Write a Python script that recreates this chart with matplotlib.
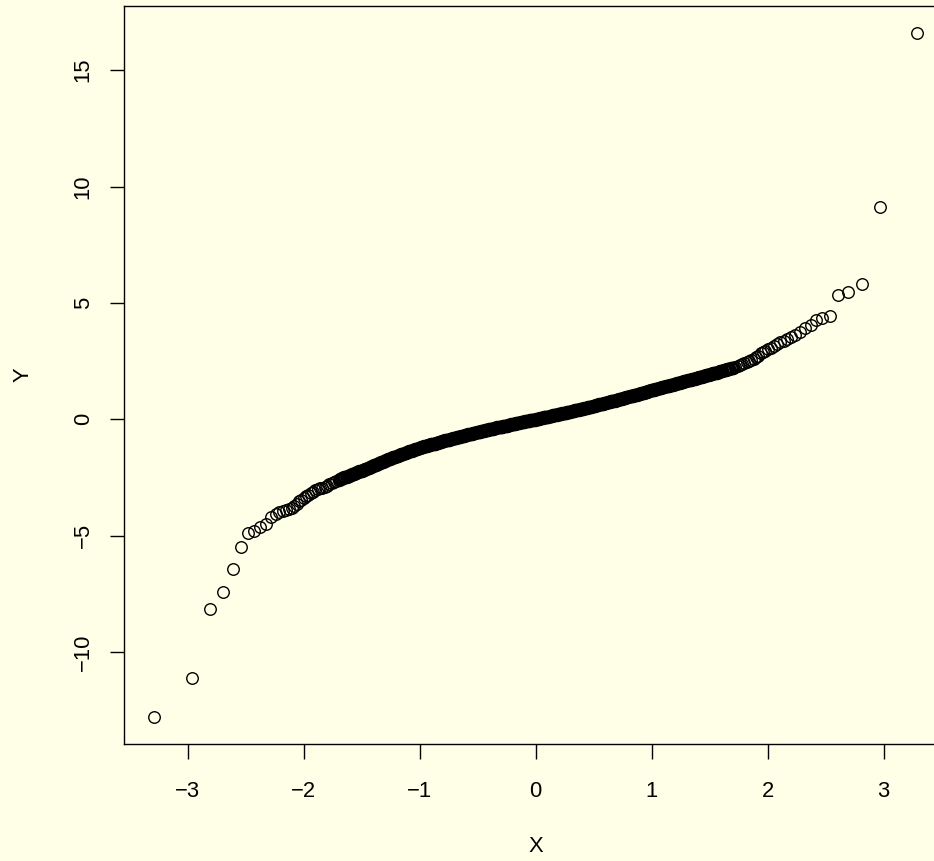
import matplotlib
matplotlib.use("Agg")
import matplotlib.pyplot as plt
import numpy as np

plt.rcParams['font.family'] = ['Liberation Sans', 'DejaVu Sans']

# ---- data ----
x_lower = [-3.29, -2.966, -2.805, -2.696, -2.612, -2.543, -2.48, -2.428, -2.377, -2.328,
           -2.284, -2.241, -2.21, -2.18, -2.155, -2.13, -2.105, -2.08, -2.06, -2.04,
           -2.02, -2.00, -1.98, -1.96, -1.94, -1.92, -1.90, -1.88, -1.86, -1.84,
           -1.82, -1.80, -1.78, -1.76, -1.74, -1.72]
y_lower = [-12.81, -11.12, -8.14, -7.44, -6.42, -5.48, -4.89, -4.82, -4.63, -4.49,
           -4.20, -4.07, -4.00, -3.95, -3.90, -3.86, -3.80, -3.72, -3.62, -3.52,
           -3.45, -3.38, -3.31, -3.24, -3.17, -3.11, -3.05, -3.01, -2.97, -2.93,
           -2.89, -2.85, -2.80, -2.75, -2.70, -2.65]

x_core = [
    -1.70, -1.69, -1.68, -1.67, -1.66, -1.65, -1.64, -1.63, -1.62, -1.61,
    -1.60, -1.59, -1.58, -1.57, -1.56, -1.55, -1.54, -1.53, -1.52, -1.51,
    -1.50, -1.49, -1.48, -1.47, -1.46, -1.45, -1.44, -1.43, -1.42, -1.41,
    -1.40, -1.39, -1.38, -1.37, -1.36, -1.35, -1.34, -1.33, -1.32, -1.31,
    -1.30, -1.29, -1.28, -1.27, -1.26, -1.25, -1.24, -1.23, -1.22, -1.21,
    -1.20, -1.19, -1.18, -1.17, -1.16, -1.15, -1.14, -1.13, -1.12, -1.11,
    -1.10, -1.09, -1.08, -1.07, -1.06, -1.05, -1.04, -1.03, -1.02, -1.01,
    -1.00, -0.99, -0.98, -0.97, -0.96, -0.95, -0.94, -0.93, -0.92, -0.91,
    -0.90, -0.89, -0.88, -0.87, -0.86, -0.85, -0.84, -0.83, -0.82, -0.81,
    -0.80, -0.79, -0.78, -0.77, -0.76, -0.75, -0.74, -0.73, -0.72, -0.71,
    -0.70, -0.69, -0.68, -0.67, -0.66, -0.65, -0.64, -0.63, -0.62, -0.61,
    -0.60, -0.59, -0.58, -0.57, -0.56, -0.55, -0.54, -0.53, -0.52, -0.51,
    -0.50, -0.49, -0.48, -0.47, -0.46, -0.45, -0.44, -0.43, -0.42, -0.41,
    -0.40, -0.39, -0.38, -0.37, -0.36, -0.35, -0.34, -0.33, -0.32, -0.31,
    -0.30, -0.29, -0.28, -0.27, -0.26, -0.25, -0.24, -0.23, -0.22, -0.21,
    -0.20, -0.19, -0.18, -0.17, -0.16, -0.15, -0.14, -0.13, -0.12, -0.11,
    -0.10, -0.09, -0.08, -0.07, -0.06, -0.05, -0.04, -0.03, -0.02, -0.01,
    0.00, 0.01, 0.02, 0.03, 0.04, 0.05, 0.06, 0.07, 0.08, 0.09,
    0.10, 0.11, 0.12, 0.13, 0.14, 0.15, 0.16, 0.17, 0.18, 0.19,
    0.20, 0.21, 0.22, 0.23, 0.24, 0.25, 0.26, 0.27, 0.28, 0.29,
    0.30, 0.31, 0.32, 0.33, 0.34, 0.35, 0.36, 0.37, 0.38, 0.39,
    0.40, 0.41, 0.42, 0.43, 0.44, 0.45, 0.46, 0.47, 0.48, 0.49,
    0.50, 0.51, 0.52, 0.53, 0.54, 0.55, 0.56, 0.57, 0.58, 0.59,
    0.60, 0.61, 0.62, 0.63, 0.64, 0.65, 0.66, 0.67, 0.68, 0.69,
    0.70, 0.71, 0.72, 0.73, 0.74, 0.75, 0.76, 0.77, 0.78, 0.79,
    0.80, 0.81, 0.82, 0.83, 0.84, 0.85, 0.86, 0.87, 0.88, 0.89,
    0.90, 0.91, 0.92, 0.93, 0.94, 0.95, 0.96, 0.97, 0.98, 0.99,
    1.00, 1.01, 1.02, 1.03, 1.04, 1.05, 1.06, 1.07, 1.08, 1.09,
    1.10, 1.11, 1.12, 1.13, 1.14, 1.15, 1.16, 1.17, 1.18, 1.19,
    1.20, 1.21, 1.22, 1.23, 1.24, 1.25, 1.26, 1.27, 1.28, 1.29,
    1.30, 1.31, 1.32, 1.33, 1.34, 1.35, 1.36, 1.37, 1.38, 1.39,
    1.40, 1.41, 1.42, 1.43, 1.44, 1.45, 1.46, 1.47, 1.48, 1.49,
    1.50, 1.51, 1.52, 1.53, 1.54, 1.55, 1.56, 1.57, 1.58, 1.59,
    1.60, 1.61, 1.62, 1.63, 1.64, 1.65, 1.66, 1.67, 1.68, 1.69,
    1.70]
y_core = [
    -2.60, -2.58, -2.56, -2.54, -2.52, -2.50, -2.48, -2.46, -2.44, -2.42,
    -2.40, -2.38, -2.36, -2.34, -2.32, -2.30, -2.28, -2.26, -2.24, -2.22,
    -2.20, -2.18, -2.16, -2.14, -2.12, -2.10, -2.08, -2.06, -2.04, -2.02,
    -2.00, -1.98, -1.96, -1.93, -1.91, -1.89, -1.87, -1.85, -1.82, -1.80,
    -1.78, -1.76, -1.74, -1.72, -1.70, -1.68, -1.66, -1.64, -1.62, -1.60,
    -1.58, -1.56, -1.54, -1.53, -1.51, -1.49, -1.47, -1.45, -1.44, -1.42,
    -1.40, -1.38, -1.36, -1.35, -1.33, -1.31, -1.29, -1.27, -1.26, -1.24,
    -1.22, -1.21, -1.19, -1.18, -1.16, -1.15, -1.14, -1.12, -1.11, -1.09,
    -1.08, -1.07, -1.05, -1.04, -1.02, -1.01, -1.00, -0.98, -0.97, -0.95,
    -0.94, -0.93, -0.91, -0.90, -0.88, -0.87, -0.86, -0.84, -0.83, -0.81,
    -0.80, -0.79, -0.77, -0.76, -0.75, -0.74, -0.72, -0.71, -0.70, -0.68,
    -0.67, -0.66, -0.65, -0.63, -0.62, -0.61, -0.60, -0.59, -0.57, -0.56,
    -0.55, -0.54, -0.53, -0.51, -0.50, -0.49, -0.48, -0.47, -0.45, -0.44,
    -0.43, -0.42, -0.41, -0.40, -0.39, -0.38, -0.36, -0.35, -0.34, -0.33,
    -0.32, -0.31, -0.30, -0.29, -0.28, -0.27, -0.25, -0.24, -0.23, -0.22,
    -0.21, -0.20, -0.19, -0.18, -0.17, -0.16, -0.14, -0.13, -0.12, -0.11,
    -0.10, -0.09, -0.08, -0.07, -0.06, -0.05, -0.04, -0.03, -0.02, -0.01,
    0.00, 0.01, 0.02, 0.03, 0.04, 0.06, 0.07, 0.08, 0.09, 0.10,
    0.11, 0.12, 0.13, 0.14, 0.15, 0.17, 0.18, 0.19, 0.20, 0.21,
    0.22, 0.23, 0.24, 0.25, 0.26, 0.28, 0.29, 0.30, 0.31, 0.32,
    0.33, 0.34, 0.35, 0.37, 0.38, 0.39, 0.40, 0.41, 0.43, 0.44,
    0.45, 0.46, 0.47, 0.49, 0.50, 0.51, 0.52, 0.53, 0.55, 0.56,
    0.57, 0.58, 0.60, 0.61, 0.62, 0.64, 0.65, 0.66, 0.67, 0.69,
    0.70, 0.71, 0.73, 0.74, 0.75, 0.77, 0.78, 0.79, 0.80, 0.82,
    0.83, 0.84, 0.86, 0.87, 0.89, 0.90, 0.91, 0.93, 0.94, 0.96,
    0.97, 0.98, 1.00, 1.01, 1.02, 1.04, 1.05, 1.06, 1.07, 1.09,
    1.10, 1.12, 1.13, 1.15, 1.16, 1.18, 1.19, 1.21, 1.22, 1.24,
    1.25, 1.26, 1.28, 1.29, 1.30, 1.32, 1.33, 1.34, 1.35, 1.37,
    1.38, 1.39, 1.41, 1.42, 1.44, 1.45, 1.46, 1.48, 1.49, 1.51,
    1.52, 1.53, 1.55, 1.56, 1.58, 1.59, 1.60, 1.62, 1.63, 1.65,
    1.66, 1.67, 1.69, 1.70, 1.71, 1.73, 1.74, 1.75, 1.76, 1.78,
    1.79, 1.80, 1.82, 1.83, 1.85, 1.86, 1.87, 1.89, 1.90, 1.92,
    1.93, 1.94, 1.96, 1.97, 1.99, 2.00, 2.01, 2.03, 2.04, 2.06,
    2.07, 2.09, 2.10, 2.12, 2.13, 2.15, 2.16, 2.18, 2.19, 2.21,
    2.22]

x_upper = [1.72, 1.74, 1.76, 1.78, 1.80, 1.82, 1.84, 1.86, 1.88, 1.90,
           1.92, 1.94, 1.96, 1.98, 2.00, 2.03, 2.055, 2.08, 2.11, 2.14,
           2.17, 2.20, 2.235, 2.278, 2.322, 2.371, 2.414, 2.471, 2.537, 2.609,
           2.695, 2.81, 2.968, 3.284]
y_upper = [2.26, 2.30, 2.34, 2.38, 2.42, 2.46, 2.50, 2.55, 2.60, 2.66,
           2.74, 2.83, 2.90, 2.95, 3.00, 3.08, 3.15, 3.22, 3.30, 3.38,
           3.45, 3.55, 3.63, 3.77, 3.92, 4.06, 4.27, 4.37, 4.45, 5.32,
           5.48, 5.82, 9.13, 16.59]

x_ticks = [-3, -2, -1, 0, 1, 2, 3]
y_ticks = [-10, -5, 0, 5, 10, 15]

# ---- drawing ----
bg = '#FFFFE8'
W, H = 934, 861
fig = plt.figure(figsize=(W / 100, H / 100), dpi=100, facecolor=bg)
left, right, top, bottom = 123.7, 947.7, 5.7, 744.0
ax = fig.add_axes([left / W, 1 - bottom / H, (right - left) / W, (bottom - top) / H])
ax.set_facecolor(bg)

# core band drawn with a slightly heavier ring so the dense band reads solid
ax.plot(x_core, y_core, linestyle='none', marker='o', markersize=8.4,
        markerfacecolor='none', markeredgecolor='black', markeredgewidth=1.3,
        clip_on=False)
for xs, ys in ((x_lower, y_lower), (x_upper, y_upper)):
    ax.plot(xs, ys, linestyle='none', marker='o', markersize=8.3,
            markerfacecolor='none', markeredgecolor='black', markeredgewidth=1.0,
            clip_on=False)

ax.set_xlim(-3.552, 3.552)
ax.set_ylim(-13.95, 17.77)
for s in ax.spines.values():
    s.set_linewidth(1.0)
    s.set_color('black')

ax.set_xticks(x_ticks)
ax.set_yticks(y_ticks)
ax.set_xticklabels([str(t).replace('-', '\u2212') for t in x_ticks])
ax.set_yticklabels([str(t).replace('-', '\u2212') for t in y_ticks],
                   rotation=90, va='center')
ax.tick_params(axis='x', direction='out', length=10.8, width=1.0,
               labelsize=15.8, pad=15.5, colors='black')
ax.tick_params(axis='y', direction='out', length=10.0, width=1.0,
               labelsize=15.8, pad=11.5, colors='black')

fig.text(535.7 / W, 1 - 846 / H, 'X', ha='center', va='center', fontsize=15.8)
fig.text(23 / W, 1 - 375 / H, 'Y', ha='center', va='center', fontsize=15.8,
         rotation=90)

fig.savefig('out.png', dpi=100, facecolor=bg)
